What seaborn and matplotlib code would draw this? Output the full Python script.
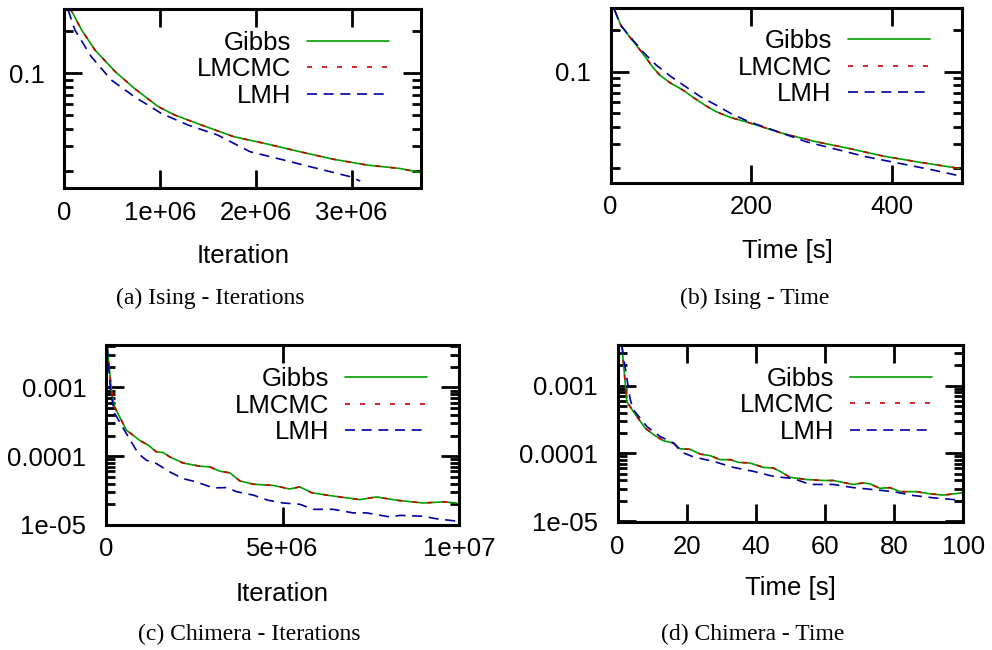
import numpy as np
import pandas as pd
import matplotlib
matplotlib.use("Agg")
import matplotlib.pyplot as plt
from matplotlib.ticker import FuncFormatter, LogLocator, NullLocator, MultipleLocator
import seaborn as sns

# ---------------- data ----------------
methods = ["Gibbs", "LMCMC", "LMH"]

# (a) Ising - Iterations
a_gibbs_x = [0.06e6, 0.18e6, 0.32e6, 0.53e6, 0.73e6, 0.98e6, 1.15e6, 1.43e6, 1.77e6,
             2.12e6, 2.46e6, 2.81e6, 3.16e6, 3.50e6, 3.73e6]
a_gibbs_y = [0.294, 0.205, 0.147, 0.103, 0.078, 0.0576, 0.0502, 0.0425, 0.0350,
             0.0310, 0.0273, 0.0241, 0.0219, 0.0207, 0.0193]
a_lmcmc_x = [0.06e6, 0.18e6, 0.32e6, 0.53e6, 0.73e6, 0.98e6, 1.15e6, 1.43e6, 1.77e6,
             2.12e6, 2.46e6, 2.81e6, 3.16e6, 3.50e6, 3.73e6]
a_lmcmc_y = [0.294, 0.205, 0.147, 0.103, 0.078, 0.0576, 0.0502, 0.0425, 0.0350,
             0.0310, 0.0273, 0.0241, 0.0219, 0.0207, 0.0193]
a_lmh_x = [0.04e6, 0.11e6, 0.28e6, 0.49e6, 0.73e6, 1.01e6, 1.29e6, 1.60e6, 1.94e6,
           2.29e6, 2.64e6, 2.98e6, 3.09e6]
a_lmh_y = [0.285, 0.205, 0.132, 0.0895, 0.068, 0.0516, 0.0425, 0.036, 0.0273,
           0.0238, 0.0207, 0.0181, 0.0168]

# (b) Ising - Time
b_gibbs_x = [5.7, 15, 27, 40, 51, 60, 70, 85, 103, 120, 135, 150, 170, 197, 245, 292,
             339, 387, 434, 496]
b_gibbs_y = [0.279, 0.215, 0.179, 0.148, 0.125, 0.108, 0.0946, 0.083, 0.0737, 0.064,
             0.057, 0.0515, 0.0468, 0.0428, 0.0358, 0.0312, 0.0279, 0.0246, 0.0224, 0.0200]
b_lmcmc_x = [5.7, 15, 27, 40, 51, 60, 70, 85, 103, 120, 135, 150, 170, 197, 245, 292,
             339, 387, 434, 496]
b_lmcmc_y = [0.279, 0.215, 0.179, 0.148, 0.125, 0.108, 0.0946, 0.083, 0.0737, 0.064,
             0.057, 0.0515, 0.0468, 0.0428, 0.0358, 0.0312, 0.0279, 0.0246, 0.0224, 0.0200]
b_lmh_x = [5.7, 15, 32, 48, 65, 85, 107, 128, 150, 172, 197, 245, 278, 316, 363, 410,
           458, 498]
b_lmh_y = [0.279, 0.215, 0.169, 0.136, 0.1117, 0.093, 0.0779, 0.066, 0.0574, 0.0496,
           0.0435, 0.0358, 0.0312, 0.0279, 0.0243, 0.0218, 0.0195, 0.0176]

# (c) Chimera - Iterations
c_gibbs_x = [0.04e6, 0.16e6, 0.25e6, 0.58e6, 0.96e6, 1.2e6, 1.43e6, 1.62e6, 1.81e6,
             2.19e6, 2.66e6, 2.94e6, 3.23e6, 3.51e6, 3.79e6, 4.17e6, 4.74e6, 5.2e6,
             5.49e6, 5.82e6, 6.25e6, 6.62e6, 7.19e6, 7.66e6, 8.23e6, 8.98e6, 9.55e6, 9.92e6]
c_gibbs_y = [0.0039, 0.00091, 0.00052, 0.00024, 0.00017, 0.000145, 0.000116, 0.000113,
             9.78e-5, 7.96e-5, 7.16e-5, 7.0e-5, 6.05e-5, 5.73e-5, 4.38e-5, 3.92e-5,
             3.76e-5, 3.34e-5, 3.58e-5, 2.95e-5, 2.72e-5, 2.56e-5, 2.34e-5, 2.56e-5,
             2.29e-5, 2.09e-5, 2.17e-5, 2.09e-5]
c_lmcmc_x = [0.04e6, 0.16e6, 0.25e6, 0.58e6, 0.96e6, 1.2e6, 1.43e6, 1.62e6, 1.81e6,
             2.19e6, 2.66e6, 2.94e6, 3.23e6, 3.51e6, 3.79e6, 4.17e6, 4.74e6, 5.2e6,
             5.49e6, 5.82e6, 6.25e6, 6.62e6, 7.19e6, 7.66e6, 8.23e6, 8.98e6, 9.55e6, 9.92e6]
c_lmcmc_y = [0.0039, 0.00091, 0.00052, 0.00024, 0.00017, 0.000145, 0.000116, 0.000113,
             9.78e-5, 7.96e-5, 7.16e-5, 7.0e-5, 6.05e-5, 5.73e-5, 4.38e-5, 3.92e-5,
             3.76e-5, 3.34e-5, 3.58e-5, 2.95e-5, 2.72e-5, 2.56e-5, 2.34e-5, 2.56e-5,
             2.29e-5, 2.09e-5, 2.17e-5, 2.09e-5]
c_lmh_x = [0.04e6, 0.14e6, 0.25e6, 0.58e6, 0.92e6, 1.15e6, 1.43e6, 1.81e6, 2.19e6,
           2.57e6, 3.04e6, 3.42e6, 3.70e6, 4.17e6, 4.59e6, 5.02e6, 5.49e6, 5.87e6,
           6.43e6, 7.0e6, 7.38e6, 8.04e6, 8.32e6, 8.98e6, 9.36e6, 9.92e6]
c_lmh_y = [0.0039, 0.00082, 0.00042, 0.000214, 0.000109, 8.74e-5, 7.83e-5, 5.91e-5,
           4.72e-5, 4.22e-5, 3.46e-5, 3.5e-5, 3.05e-5, 2.72e-5, 2.29e-5, 2.09e-5,
           2.0e-5, 1.69e-5, 1.69e-5, 1.5e-5, 1.5e-5, 1.31e-5, 1.38e-5, 1.34e-5,
           1.23e-5, 1.14e-5]

# (d) Chimera - Time
d_gibbs_x = [1.25, 1.9, 2.7, 4.6, 8.0, 10.9, 13.3, 16.2, 18.1, 21, 23.9, 26.8, 29.7,
             32.6, 35, 38.3, 42.2, 45.1, 47, 49.9, 54.7, 59.5, 62.4, 68.2, 71.1, 73,
             75.9, 78.8, 81.7, 86.5, 90.4, 94.2, 100]
d_gibbs_y = [0.004, 0.0017, 0.00058, 0.000415, 0.000236, 0.000182, 0.000154, 0.000142,
             0.000117, 0.000115, 9.77e-5, 9.26e-5, 8.08e-5, 8.08e-5, 7.37e-5, 7.21e-5,
             6.22e-5, 6.08e-5, 5.43e-5, 4.44e-5, 4.11e-5, 3.98e-5, 3.98e-5, 3.48e-5,
             3.67e-5, 3.55e-5, 3.05e-5, 3.12e-5, 2.72e-5, 2.72e-5, 2.53e-5, 2.42e-5,
             2.63e-5]
d_lmcmc_x = [1.25, 1.9, 2.7, 4.6, 8.0, 10.9, 13.3, 16.2, 18.1, 21, 23.9, 26.8, 29.7,
             32.6, 35, 38.3, 42.2, 45.1, 47, 49.9, 54.7, 59.5, 62.4, 68.2, 71.1, 73,
             75.9, 78.8, 81.7, 86.5, 90.4, 94.2, 100]
d_lmcmc_y = [0.004, 0.0017, 0.00058, 0.000415, 0.000236, 0.000182, 0.000154, 0.000142,
             0.000117, 0.000115, 9.77e-5, 9.26e-5, 8.08e-5, 8.08e-5, 7.37e-5, 7.21e-5,
             6.22e-5, 6.08e-5, 5.43e-5, 4.44e-5, 4.11e-5, 3.98e-5, 3.98e-5, 3.48e-5,
             3.67e-5, 3.55e-5, 3.05e-5, 3.12e-5, 2.72e-5, 2.72e-5, 2.53e-5, 2.42e-5,
             2.63e-5]
d_lmh_x = [1.25, 2.5, 3.7, 4.6, 8.5, 12.3, 16.2, 18.6, 22, 27.7, 33.5, 39.3, 45.1,
           50.9, 55.7, 62.4, 68.2, 74, 79.8, 85.5, 91.3, 100]
d_lmh_y = [0.004, 0.0015, 0.00062, 0.00044, 0.000249, 0.000178, 0.000142, 0.000104,
           8.85e-5, 7.63e-5, 6.22e-5, 5.43e-5, 4.58e-5, 4.24e-5, 3.48e-5, 3.48e-5,
           3.12e-5, 2.92e-5, 2.72e-5, 2.39e-5, 2.21e-5, 2.02e-5]

captions = ["(a) Ising - Iterations", "(b) Ising - Time",
            "(c) Chimera - Iterations", "(d) Chimera - Time"]
xlabels = ["Iteration", "Time [s]", "Iteration", "Time [s]"]

# ---------------- style ----------------
sns.set_theme(style="ticks")
plt.rcParams["font.family"] = ["Liberation Sans", "DejaVu Sans"]
plt.rcParams["axes.linewidth"] = 2.2
plt.rcParams["text.color"] = "black"

palette = {"Gibbs": "#00a000", "LMCMC": "#d00000", "LMH": "#0000a0"}
dashes = {"Gibbs": "", "LMCMC": (3, 6), "LMH": (6, 4)}

FS = 18.5

def gfmt(v, pos):
    return "%g" % v

def make_df(gx, gy, mx, my, hx, hy):
    rows = []
    for name, xs, ys in (("Gibbs", gx, gy), ("LMCMC", mx, my), ("LMH", hx, hy)):
        for x, y in zip(xs, ys):
            rows.append((x, y, name))
    return pd.DataFrame(rows, columns=["x", "y", "method"])

panels = [
    dict(df=make_df(a_gibbs_x, a_gibbs_y, a_lmcmc_x, a_lmcmc_y, a_lmh_x, a_lmh_y),
         box=(64.3, 421.5, 8.7, 188.3), xlim=(0, 3.73e6), ylim=(0.0149, 0.291),
         xstep=1e6, lab=(0.50, -0.418), cap=(210.5, 304)),
    dict(df=make_df(b_gibbs_x, b_gibbs_y, b_lmcmc_x, b_lmcmc_y, b_lmh_x, b_lmh_y),
         box=(610.5, 961.5, 7.7, 182.8), xlim=(0, 499.5), ylim=(0.01573, 0.290),
         xstep=200, lab=(0.503, -0.431), cap=(755, 304)),
    dict(df=make_df(c_gibbs_x, c_gibbs_y, c_lmcmc_x, c_lmcmc_y, c_lmh_x, c_lmh_y),
         box=(105.8, 459.3, 345.3, 525.0), xlim=(0, 1e7), ylim=(1e-5, 0.0041),
         xstep=5e6, lab=(0.498, -0.421), cap=(249.7, 640)),
    dict(df=make_df(d_gibbs_x, d_gibbs_y, d_lmcmc_x, d_lmcmc_y, d_lmh_x, d_lmh_y),
         box=(617.5, 963.3, 345.3, 522.0), xlim=(0, 100), ylim=(0.97e-5, 0.00395),
         xstep=20, lab=(0.499, -0.413), cap=(752.5, 640)),
]

W, H = 992, 650
fig = plt.figure(figsize=(W / 100, H / 100), dpi=100)
fig.patch.set_facecolor("white")

for i, p in enumerate(panels):
    l, r, t, b = p["box"]
    ax = fig.add_axes([l / W, 1 - b / H, (r - l) / W, (b - t) / H])
    ax.set_facecolor("white")
    sns.lineplot(data=p["df"], x="x", y="y", hue="method", style="method",
                 hue_order=methods, style_order=methods, palette=palette,
                 dashes=dashes, estimator=None, sort=False, linewidth=1.2, ax=ax)
    ax.set_yscale("log")
    ax.set_xlim(*p["xlim"])
    ax.set_ylim(*p["ylim"])
    ax.yaxis.set_major_locator(LogLocator(base=10))
    ax.yaxis.set_minor_locator(LogLocator(base=10, subs=np.arange(2, 10)))
    ax.yaxis.set_major_formatter(FuncFormatter(gfmt))
    ax.yaxis.set_minor_formatter(FuncFormatter(lambda v, pos: ""))
    ax.xaxis.set_major_locator(MultipleLocator(p["xstep"]))
    ax.xaxis.set_minor_locator(NullLocator())
    ax.xaxis.set_major_formatter(FuncFormatter(gfmt))
    ax.tick_params(which="both", direction="in", top=True, right=True,
                   color="black", width=2.0, labelcolor="black")
    ax.tick_params(which="major", length=13, labelsize=FS)
    ax.tick_params(axis="x", which="major", pad=9)
    ax.tick_params(axis="y", which="major", pad=14)
    ax.tick_params(which="minor", length=6.5)
    for s in ax.spines.values():
        s.set_visible(True)
        s.set_color("black")
        s.set_linewidth(2.2)
    ax.set_xlabel(xlabels[i], fontsize=FS, color="black")
    ax.set_ylabel("")
    ax.xaxis.set_label_coords(*p["lab"])
    ax.xaxis.label.set_va("baseline")

    handles, labels = ax.get_legend_handles_labels()
    ax.legend(handles, labels, loc="upper right", bbox_to_anchor=(0.91, 0.878),
              frameon=False, markerfirst=False, fontsize=FS, borderpad=0,
              borderaxespad=0, handlelength=3.2, handletextpad=0.62,
              labelspacing=0.1, labelcolor="black")

    fig.text(p["cap"][0] / W, 1 - p["cap"][1] / H, captions[i], ha="center",
             va="baseline", fontsize=17, family=["Liberation Serif", "DejaVu Serif"],
             color="black")

fig.savefig("out.png", dpi=100, facecolor="white")
